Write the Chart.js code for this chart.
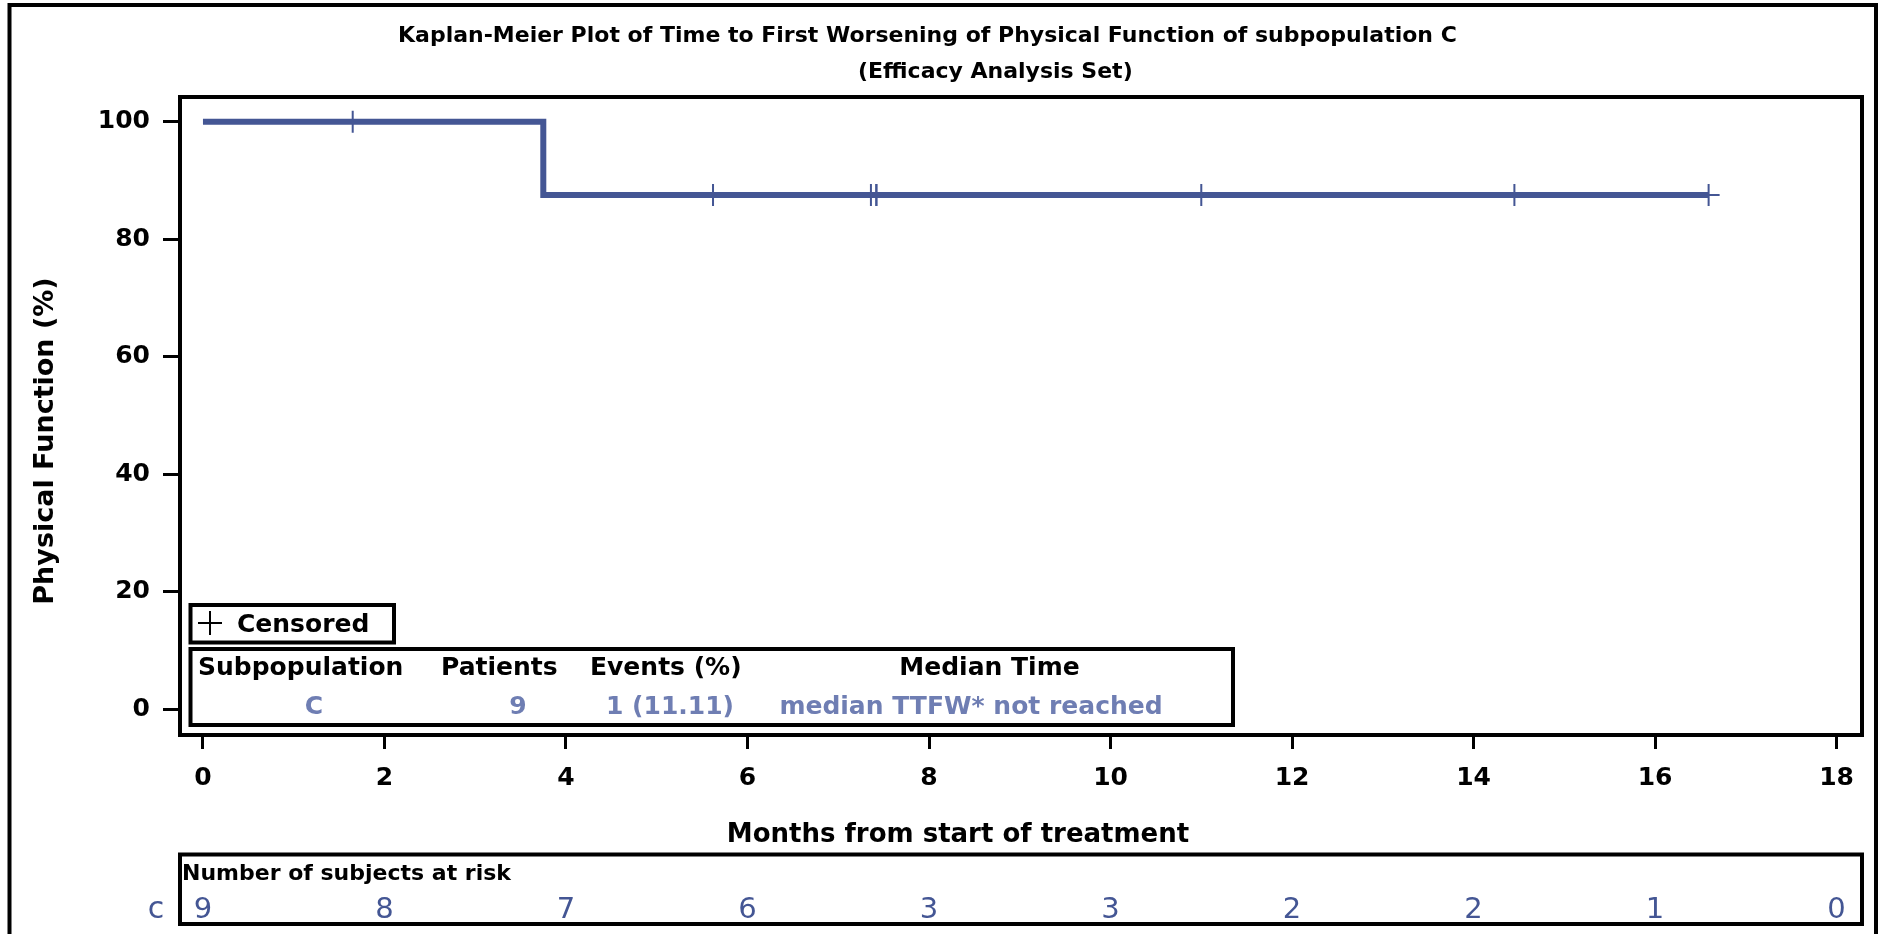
<!DOCTYPE html>
<html>
<head>
<meta charset="utf-8">
<title>Kaplan-Meier Plot - Physical Function, subpopulation C</title>
<script src="https://cdn.jsdelivr.net/npm/chart.js@4/dist/chart.umd.min.js"></script>
<style>
  html, body { margin: 0; padding: 0; background: #ffffff; }
  #km { display: block; }
</style>
</head>
<body>
<canvas id="km" width="1881" height="934"></canvas>
<script>
// ---- data ----
const xTicks = [0, 2, 4, 6, 8, 10, 12, 14, 16, 18];
const xTickLabels = ['0', '2', '4', '6', '8', '10', '12', '14', '16', '18'];
const yTicks = [0, 20, 40, 60, 80, 100];
const yTickLabels = ['0', '20', '40', '60', '80', '100'];

// Kaplan-Meier step curve (months, % without worsening)
const curveMonths = [0, 3.75, 16.59];
const curvePct = [100, 87.5, 87.5];

// censored subjects
const censorMonths = [1.65, 5.62, 7.36, 7.42, 7.42, 11.0, 14.45, 16.59];
const censorPct = [100, 87.5, 87.5, 87.5, 87.5, 87.5, 87.5, 87.5];

// number of subjects at risk at each x tick
const riskGroup = 'c';
const atRisk = [9, 8, 7, 6, 3, 3, 2, 2, 1, 0];

// summary table
const statHeaders = ['Subpopulation', 'Patients', 'Events (%)', 'Median Time'];
const statValues = ['C', '9', '1 (11.11)', 'median TTFW* not reached'];

const titleLines = [
  'Kaplan-Meier Plot of Time to First Worsening of Physical Function of subpopulation C',
  '(Efficacy Analysis Set)'
];
const xTitle = 'Months from start of treatment';
const yTitle = 'Physical Function (%)';

// ---- styling ----
const FONT = "'DejaVu Sans', Verdana, sans-serif";
const LINE_BLUE = '#445694';
const VALUE_BLUE = '#6F7EB3';
Chart.defaults.font.family = FONT;

const toPoints = (xs, ys) => xs.map((v, i) => ({ x: v, y: ys[i] }));

// frames, titles, summary boxes and the at-risk table
const decorations = {
  id: 'decorations',
  afterDraw(chart) {
    const { ctx, chartArea: a, scales: { x } } = chart;
    ctx.save();
    ctx.strokeStyle = '#000';
    ctx.lineWidth = 4;

    // outer graph frame (open at the bottom edge of the image)
    ctx.beginPath();
    ctx.moveTo(9.5, 940);
    ctx.lineTo(9.5, 5);
    ctx.lineTo(1876, 5);
    ctx.lineTo(1876, 940);
    ctx.stroke();

    // plot wall
    ctx.strokeRect(a.left, a.top, a.right - a.left, a.bottom - a.top);

    // titles
    ctx.fillStyle = '#000';
    ctx.textBaseline = 'alphabetic';
    ctx.textAlign = 'left';
    ctx.font = 'bold 22px ' + FONT;
    ctx.fillText(titleLines[0], 398, 42);
    ctx.fillText(titleLines[1], 858, 78);

    // axis titles
    ctx.font = 'bold 26px ' + FONT;
    ctx.textAlign = 'center';
    ctx.fillText(xTitle, 958, 842);
    ctx.save();
    ctx.translate(46, 441);
    ctx.rotate(-Math.PI / 2);
    ctx.textBaseline = 'middle';
    ctx.font = 'bold 27px ' + FONT;
    ctx.fillText(yTitle, 0, 0);
    ctx.restore();

    // censored legend
    ctx.lineWidth = 4;
    ctx.strokeRect(190.5, 605, 203.5, 37.5);
    ctx.lineWidth = 2;
    ctx.beginPath();
    ctx.moveTo(198, 623); ctx.lineTo(222, 623);
    ctx.moveTo(210, 611); ctx.lineTo(210, 635);
    ctx.stroke();
    ctx.textAlign = 'left';
    ctx.font = 'bold 25px ' + FONT;
    ctx.fillText('Censored', 237, 632);

    // summary table
    ctx.lineWidth = 4;
    ctx.strokeRect(190.5, 649, 1042.5, 76);
    const headerX = [[198, 'left'], [441, 'left'], [590, 'left'], [989.5, 'center']];
    statHeaders.forEach((t, i) => {
      ctx.textAlign = headerX[i][1];
      ctx.fillText(t, headerX[i][0], 675);
    });
    const valueX = [314, 518, 670, 971];
    ctx.fillStyle = VALUE_BLUE;
    ctx.textAlign = 'center';
    statValues.forEach((t, i) => ctx.fillText(t, valueX[i], 714));

    // at-risk table
    ctx.strokeStyle = '#000';
    ctx.lineWidth = 4;
    ctx.strokeRect(a.left, 854.5, a.right - a.left, 69.5);
    ctx.fillStyle = '#000';
    ctx.textAlign = 'left';
    ctx.font = 'bold 22px ' + FONT;
    ctx.fillText('Number of subjects at risk', 182, 880);
    ctx.fillStyle = LINE_BLUE;
    ctx.textAlign = 'center';
    ctx.font = '30px ' + FONT;
    ctx.fillText(riskGroup, 156, 918);
    ctx.font = '29px ' + FONT;
    atRisk.forEach((n, i) => {
      ctx.fillText(String(n), x.getPixelForValue(xTicks[i]), 918);
    });
    ctx.restore();
  }
};

new Chart(document.getElementById('km'), {
  type: 'line',
  data: {
    datasets: [
      {
        label: 'C',
        data: toPoints(curveMonths, curvePct),
        stepped: true,
        borderColor: LINE_BLUE,
        borderWidth: 6,
        borderCapStyle: 'butt',
        pointRadius: 0,
        fill: false
      },
      {
        label: 'Censored',
        data: toPoints(censorMonths, censorPct),
        showLine: false,
        pointStyle: 'cross',
        pointRadius: 11,
        pointBorderWidth: 2,
        pointBorderColor: LINE_BLUE,
        pointBackgroundColor: LINE_BLUE
      }
    ]
  },
  options: {
    responsive: false,
    animation: false,
    events: [],
    layout: { padding: { left: 0, right: 19, top: 97, bottom: 0 } },
    plugins: {
      legend: { display: false },
      title: { display: false },
      tooltip: { enabled: false }
    },
    scales: {
      x: {
        type: 'linear',
        min: -0.253,
        max: 18.28,
        afterBuildTicks: s => { s.ticks = xTicks.map(v => ({ value: v })); },
        afterFit: s => { s.height = 199; },
        border: { display: false },
        grid: { drawOnChartArea: false, drawTicks: true, tickLength: 14, tickWidth: 3, tickColor: '#000' },
        ticks: {
          color: '#000',
          font: { size: 25, weight: 'bold' },
          padding: 14,
          maxRotation: 0,
          autoSkip: false,
          callback: (v, i) => xTickLabels[i]
        }
      },
      y: {
        type: 'linear',
        min: -4.4,
        max: 104.2,
        afterBuildTicks: s => { s.ticks = yTicks.map(v => ({ value: v })); },
        afterFit: s => { s.width = 180; },
        border: { display: false },
        grid: { drawOnChartArea: false, drawTicks: true, tickLength: 17, tickWidth: 3, tickColor: '#000' },
        ticks: {
          color: '#000',
          font: { size: 25, weight: 'bold' },
          padding: 13,
          autoSkip: false,
          callback: (v, i) => yTickLabels[i]
        }
      }
    }
  },
  plugins: [decorations]
});
</script>
</body>
</html>
